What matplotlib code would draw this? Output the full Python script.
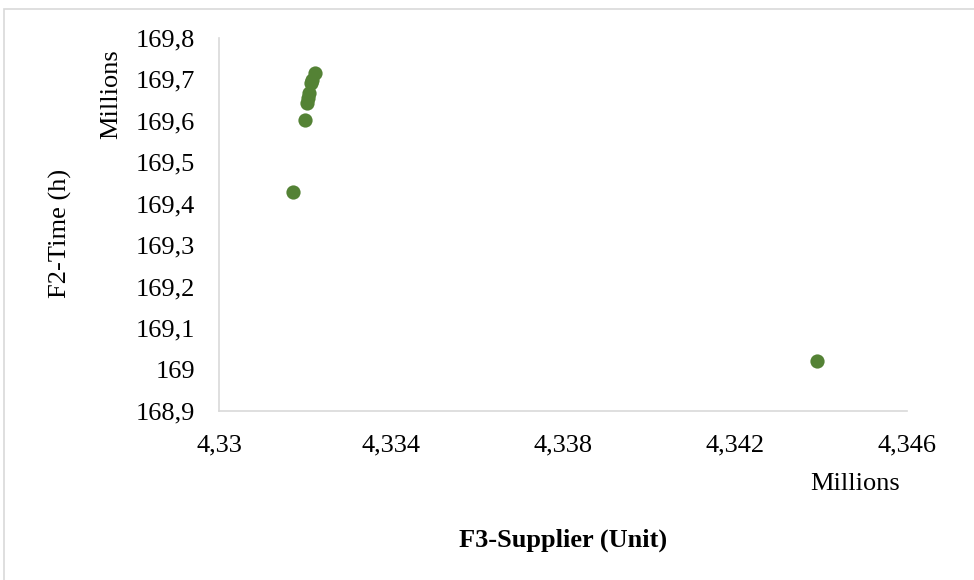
import matplotlib.pyplot as plt
from matplotlib.ticker import FuncFormatter, MultipleLocator
from matplotlib.patches import Rectangle

plt.rcParams['font.family'] = ['Liberation Serif', 'DejaVu Serif']

# F3-Supplier (millions of units) vs F2-Time (millions of hours)
supplier = [4.331714, 4.331993, 4.332053, 4.332077, 4.332093, 4.332133, 4.332163, 4.332233, 4.343907]
time_h = [169.429, 169.601, 169.644, 169.655, 169.667, 169.691, 169.699, 169.716, 169.021]

x_ticks = [4.330, 4.334, 4.338, 4.342, 4.346]

fig = plt.figure(figsize=(9.74, 5.8), dpi=100)
ax = fig.add_axes([0.2248, 0.2914, 0.7064, 0.6431])

ax.scatter(supplier, time_h, s=105, color='#548235', zorder=3, linewidths=0)

ax.set_xlim(4.330, 4.346)
ax.set_ylim(168.9, 169.8)
ax.set_xticks(x_ticks)
ax.yaxis.set_major_locator(MultipleLocator(0.1))

comma = FuncFormatter(lambda v, p: ('%g' % round(v, 4)).replace('.', ','))
ax.xaxis.set_major_formatter(comma)
ax.yaxis.set_major_formatter(comma)

ax.tick_params(axis='both', length=0, labelsize=19, colors='black')
ax.tick_params(axis='x', pad=17)
ax.tick_params(axis='y', pad=17)

for side in ['top', 'right']:
    ax.spines[side].set_visible(False)
for side in ['left', 'bottom']:
    ax.spines[side].set_color('#d9d9d9')
    ax.spines[side].set_linewidth(1.2)

# unit captions and axis titles
fig.text(855 / 974, 1 - 484 / 580, 'Millions', fontsize=19, ha='center', va='center')
fig.text(111 / 974, 1 - 94 / 580, 'Millions', fontsize=19, ha='center', va='center', rotation=90)
fig.text(60 / 974, 1 - 233 / 580, 'F2-Time (h)', fontsize=19, ha='center', va='center', rotation=90)
fig.text(563 / 974, 1 - 540 / 580, 'F3-Supplier (Unit)', fontsize=19, fontweight='bold',
         ha='center', va='center')

# chart area frame
fig.patches.append(Rectangle((4 / 974, -0.05), 1.0, 1.05 - 9 / 580, transform=fig.transFigure,
                             fill=False, edgecolor='#d9d9d9', linewidth=1.2))

fig.savefig('out.png', dpi=100)
